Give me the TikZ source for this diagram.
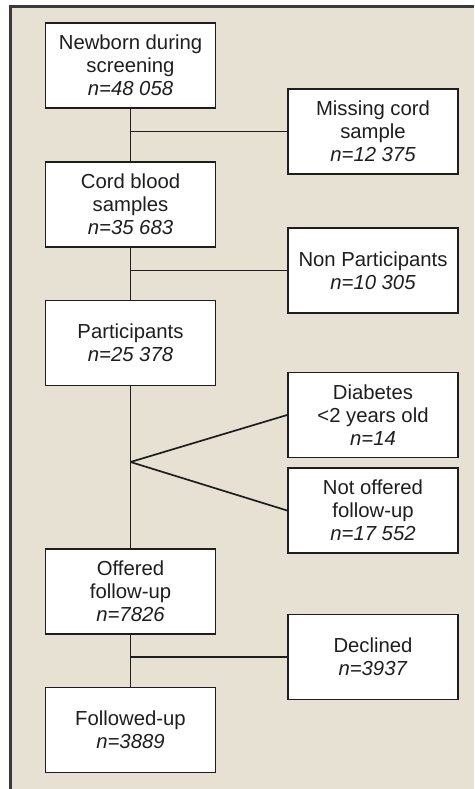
\documentclass[tikz,border=0pt]{standalone}
\usepackage{fontspec}
\setmainfont{Liberation Sans}
\definecolor{bgbeige}{HTML}{E6E1D3}
\definecolor{framegray}{HTML}{3A3A3A}
\definecolor{inkdark}{HTML}{1E1E1E}
\begin{document}
\begin{tikzpicture}[x=1pt,y=-1pt,
  flowbox/.style={draw=inkdark, line width=1.7pt, fill=white, minimum width=170pt, minimum height=85pt,
    inner sep=0pt, align=center, text=inkdark, font=\fontsize{20.3}{23.2}\selectfont},
  conn/.style={draw=inkdark, line width=1.7pt}]
\useasboundingbox (0,0) rectangle (474,789);
\fill[white] (0,0) rectangle (474,789);
\fill[bgbeige] (10.5,6.5) rectangle (474,789);
\draw[framegray, line width=2.2pt] (10.5,789) -- (10.5,6.5) -- (474,6.5);

\node[flowbox] (newborn) at (130.5,65.5) {Newborn during\\screening\\\textit{n=48 058}};
\node[flowbox] (missing) at (373,131.5) {Missing cord\\sample\\\textit{n=12 375}};
\node[flowbox] (cord) at (130.5,204.5) {Cord blood\\samples\\\textit{n=35 683}};
\node[flowbox] (nonp) at (373,270.5) {Non Participants\\\textit{n=10 305}};
\node[flowbox] (partic) at (130.5,343) {Participants\\\textit{n=25 378}};
\node[flowbox] (diab) at (373,415) {Diabetes\\<2 years old\\\textit{n=14}};
\node[flowbox] (notoff) at (373,510.5) {Not offered\\follow-up\\\textit{n=17 552}};
\node[flowbox] (offered) at (130.5,591.5) {Offered\\follow-up\\\textit{n=7826}};
\node[flowbox] (declined) at (373,657) {Declined\\\textit{n=3937}};
\node[flowbox] (followed) at (130.5,730) {Followed-up\\\textit{n=3889}};

\draw[conn] (newborn.south) -- (cord.north);
\draw[conn] (cord.south) -- (partic.north);
\draw[conn] (partic.south) -- (offered.north);
\draw[conn] (offered.south) -- (followed.north);

\draw[conn] (newborn.south |- missing.west) -- (missing.west);
\draw[conn] (cord.south |- nonp.west) -- (nonp.west);
\draw[conn] (offered.south |- declined.west) -- (declined.west);

\coordinate (fan) at (130.5,462);
\draw[conn] (fan) -- (diab.west);
\draw[conn] (fan) -- (notoff.west);
\end{tikzpicture}
\end{document}
